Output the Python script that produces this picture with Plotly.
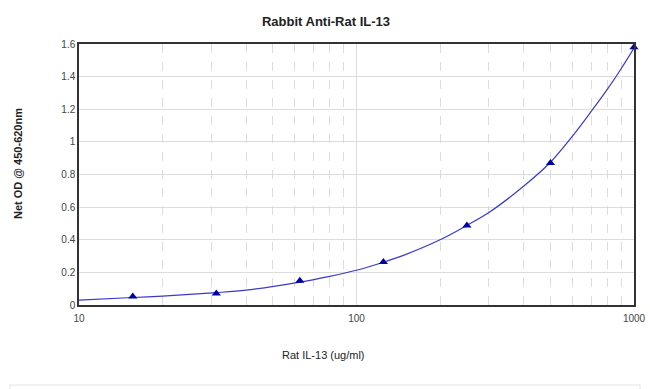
import plotly.graph_objects as go

# Standard points (concentration, OD)
conc = [15.625, 31.25, 62.5, 125, 250, 500, 1000]
od = [0.052, 0.070, 0.148, 0.263, 0.488, 0.870, 1.58]

# Fitted curve values
curve_x = [10, 15.625, 20, 31.25, 40, 62.5, 80, 100, 125, 150, 200, 250, 300, 400, 500, 600, 700, 800, 900, 1000]
curve_y = [0.030, 0.046, 0.055, 0.076, 0.091, 0.140, 0.176, 0.213, 0.262, 0.309, 0.400, 0.488, 0.567, 0.728, 0.875, 1.035, 1.185, 1.32, 1.45, 1.575]

x_major = [10, 100, 1000]
x_major_text = ["10", "100", "1000"]
x_minor = [20, 30, 40, 50, 60, 70, 80, 90, 200, 300, 400, 500, 600, 700, 800, 900]
y_ticks = [0, 0.2, 0.4, 0.6, 0.8, 1, 1.2, 1.4, 1.6]
y_tick_text = ["0", "0.2", "0.4", "0.6", "0.8", "1", "1.2", "1.4", "1.6"]

title_text = "Rabbit Anti-Rat IL-13"
x_title = "Rat IL-13 (ug/ml)"
y_title = "Net OD @ 450-620nm"

FONT = "Arial, Liberation Sans, sans-serif"

fig = go.Figure()
fig.add_trace(go.Scatter(
    x=curve_x, y=curve_y, mode="lines",
    line=dict(color="#3a3ac8", width=1.2, shape="spline", smoothing=0.8),
    hoverinfo="skip", showlegend=False))
fig.add_trace(go.Scatter(
    x=conc, y=od, mode="markers",
    marker=dict(symbol="triangle-up", size=8, color="#0000a8"),
    showlegend=False, cliponaxis=False))

L, R, T, B = 79, 16, 44, 84
W, H = 650, 389
pw = W - L - R
ph = H - T - B

def px(xp):
    return (xp - L) / pw

def py(yp):
    return (H - B - yp) / ph

fig.update_layout(
    template="none",
    width=W, height=H,
    margin=dict(l=L, r=R, t=T, b=B, pad=0, autoexpand=False),
    paper_bgcolor="white", plot_bgcolor="white",
    font=dict(family=FONT, size=10, color="#444"),
    title=dict(text="<b>" + title_text + "</b>", x=326 / W, xref="container", xanchor="center",
               y=1 - 21 / H, yref="container", yanchor="middle",
               font=dict(family=FONT, size=13, color="#222")),
    xaxis=dict(type="log", range=[1, 3], tickvals=x_major, ticktext=x_major_text,
               automargin=False,
               showgrid=True, gridcolor="#dcdcdc", gridwidth=1,
               minor=dict(tickvals=x_minor, showgrid=True, gridcolor="#dcdcdc", griddash="dash", gridwidth=1, ticks=""),
               showline=True, linecolor="#333", linewidth=1.5, mirror=True,
               ticks="", ticklabelstandoff=3, zeroline=False, ticklabeloverflow="allow",
               tickfont=dict(family=FONT, size=10, color="#444")),
    yaxis=dict(range=[0, 1.6], tickvals=y_ticks, ticktext=y_tick_text,
               automargin=False,
               showgrid=True, gridcolor="#dcdcdc", gridwidth=1,
               showline=True, linecolor="#333", linewidth=1.5, mirror=True,
               ticks="", zeroline=False, ticklabeloverflow="allow",
               tickfont=dict(family=FONT, size=10, color="#444")),
    annotations=[
        dict(text=x_title, xref="paper", yref="paper", x=px(323), y=py(355),
             showarrow=False, xanchor="center", yanchor="middle",
             font=dict(family=FONT, size=11, color="#222")),
        dict(text="<b>" + y_title + "</b>", xref="paper", yref="paper", x=px(18), y=py(164),
             showarrow=False, xanchor="center", yanchor="middle", textangle=-90,
             font=dict(family=FONT, size=11, color="#222")),
    ],
    shapes=[
        dict(type="rect", xref="paper", yref="paper", x0=px(10), x1=px(640), y0=py(385), y1=py(398),
             line=dict(color="#e2e2e2", width=1), fillcolor="rgba(0,0,0,0)", layer="below"),
    ],
)

fig.write_html("out.html", config={"displayModeBar": False},
               post_script="document.body.style.margin='0';document.body.style.overflow='hidden';")
